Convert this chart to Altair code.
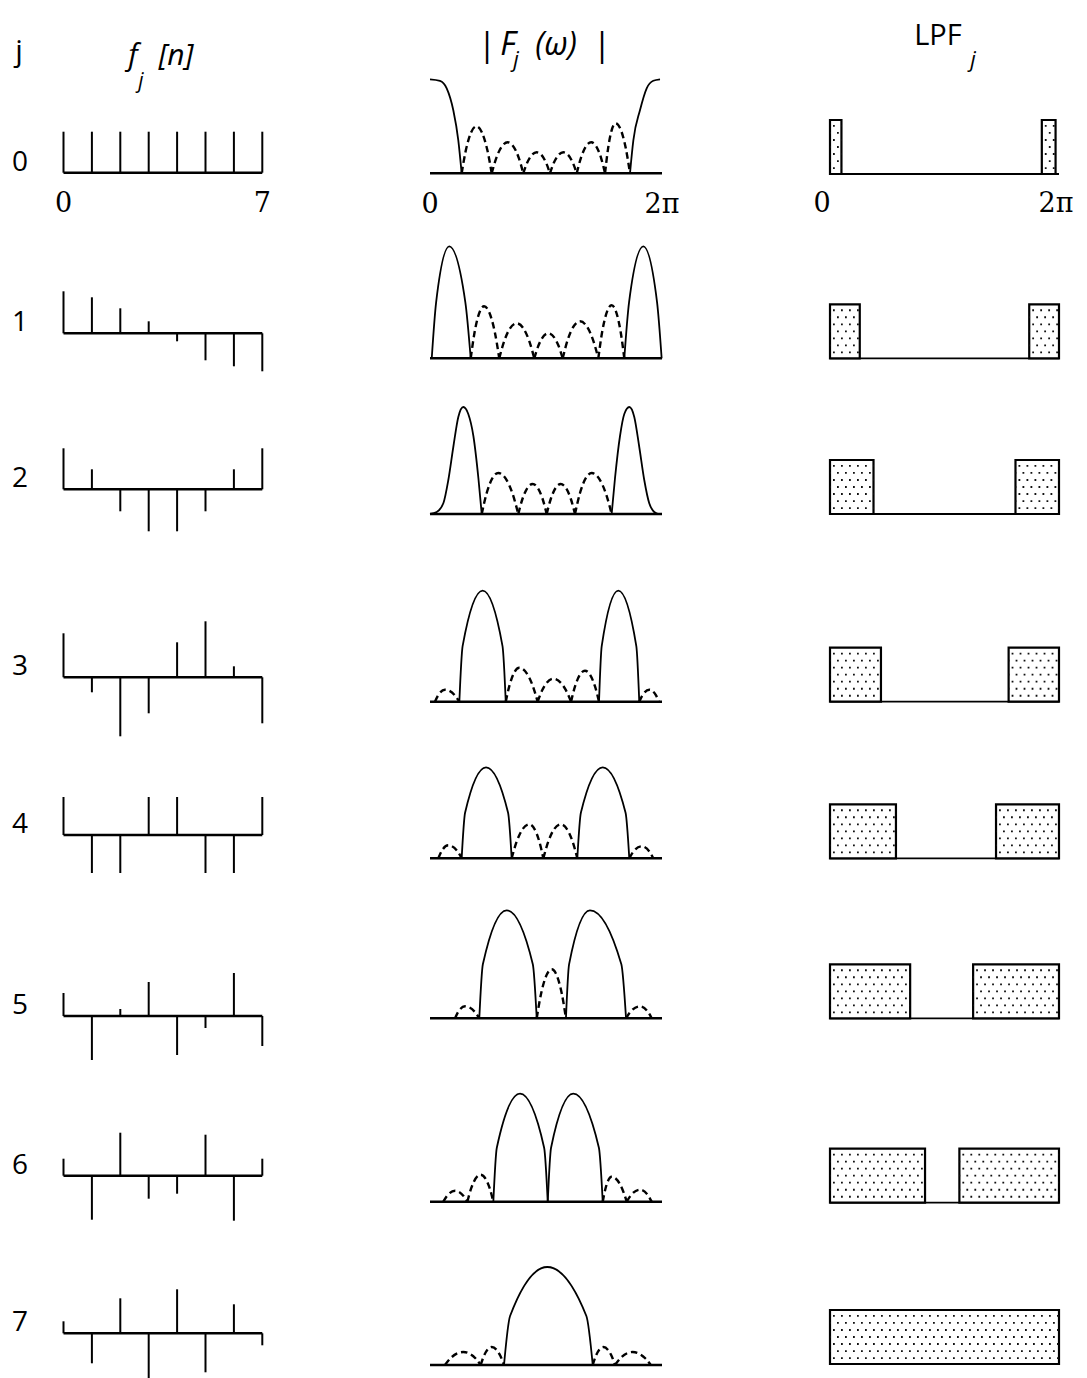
import altair as alt
import pandas as pd

# ---------------------------------------------------------------- data
ROWS = [0, 1, 2, 3, 4, 5, 6, 7]
row_labels = ["0", "1", "2", "3", "4", "5", "6", "7"]
N = [0, 1, 2, 3, 4, 5, 6, 7]                      # sample index n

# f_j[n] stem amplitudes (arbitrary units)
f_0 = [41, 41, 41, 41, 41, 41, 41, 41]
f_1 = [42, 36, 25, 12, -8, -27, -33, -38]
f_2 = [41, 20, -22, -42, -42, -22, 20, 41]
f_3 = [44, -15, -59, -36, 35, 56, 11, -46]
f_4 = [38, -38, -38, 38, 38, -38, -38, 38]
f_5 = [23, -44, 7, 34, -39, -12, 43, -30]
f_6 = [17, -44, 43, -23, -18, 41, -45, 17]
f_7 = [12, -30, 35, -45, 44, -39, 29, -12]
F = [f_0, f_1, f_2, f_3, f_4, f_5, f_6, f_7]

# |F_j(w)| lobes: (left zero, peak, right zero) in multiples of pi, peak height, main lobe?
lobes_0 = [(0.273, 0.40, 0.532, 47, False), (0.532, 0.67, 0.804, 31, False),
           (0.804, 0.92, 1.034, 21, False), (1.034, 1.15, 1.265, 21, False),
           (1.265, 1.39, 1.509, 31, False), (1.509, 1.60, 1.724, 50, False)]
lobes_1 = [(0.015, 0.166, 0.351, 112, True), (0.351, 0.466, 0.597, 52, False),
           (0.597, 0.747, 0.899, 35, False), (0.899, 1.020, 1.144, 25, False),
           (1.144, 1.293, 1.451, 37, False), (1.451, 1.566, 1.675, 53, False),
           (1.675, 1.839, 1.997, 112, True)]
lobes_2 = [(0.446, 0.589, 0.761, 41, False), (0.761, 0.885, 1.006, 30, False),
           (1.006, 1.127, 1.250, 30, False), (1.250, 1.394, 1.566, 41, False)]
lobes_3 = [(0.043, 0.129, 0.253, 12, False), (0.253, 0.454, 0.653, 111, True),
           (0.653, 0.770, 0.928, 34, False), (0.928, 1.063, 1.216, 23, False),
           (1.216, 1.336, 1.457, 31, False), (1.457, 1.623, 1.804, 111, True),
           (1.804, 1.891, 1.974, 12, False)]
lobes_4 = [(0.072, 0.158, 0.273, 13, False), (0.273, 0.483, 0.704, 91, True),
           (0.704, 0.856, 0.977, 34, False), (0.977, 1.127, 1.270, 34, False),
           (1.270, 1.489, 1.718, 91, True), (1.718, 1.825, 1.925, 12, False)]
lobes_5 = [(0.216, 0.302, 0.425, 12, False), (0.425, 0.661, 0.920, 108, True),
           (0.920, 1.049, 1.172, 49, False), (1.172, 1.379, 1.690, 108, True),
           (1.690, 1.810, 1.911, 12, False)]
lobes_6 = [(0.115, 0.216, 0.322, 11, False), (0.322, 0.437, 0.546, 27, False),
           (0.546, 0.776, 1.015, 108, True), (1.015, 1.235, 1.489, 108, True),
           (1.489, 1.566, 1.696, 25, False), (1.696, 1.810, 1.911, 12, False)]
lobes_7 = [(0.129, 0.287, 0.437, 13, False), (0.437, 0.532, 0.638, 18, False),
           (0.638, 1.011, 1.403, 98, True), (1.403, 1.494, 1.595, 18, False),
           (1.595, 1.747, 1.903, 13, False)]
LOBES = [lobes_0, lobes_1, lobes_2, lobes_3, lobes_4, lobes_5, lobes_6, lobes_7]

# half-height point of a lobe side, as a fraction of the zero->peak span (read)
side_shoulder = 0.29
main_shoulder = [0.13, 0.25, 0.13, 0.14, 0.14, 0.13, 0.13, 0.14]

# main lobes traced point by point (row 0 edge lobes, row 2 bell lobes)
trace_0L_w = [0.0, 0.086, 0.144, 0.201, 0.244, 0.273]
trace_0L_h = [94, 92.5, 85, 63, 33, 0]
trace_0R_w = [1.724, 1.753, 1.810, 1.868, 1.925, 1.983]
trace_0R_h = [0, 33, 63, 85, 92.5, 94]
trace_2L_w = [0.0, 0.058, 0.115, 0.158, 0.201, 0.244, 0.287, 0.330, 0.374, 0.417, 0.446]
trace_2L_h = [0, 2, 10.7, 34, 67, 97, 107, 100, 78, 36, 0]
trace_2R_w = [1.566, 1.595, 1.638, 1.675, 1.718, 1.761, 1.804, 1.847, 1.890, 1.933, 1.968]
trace_2R_h = [0, 36, 78, 100, 107, 97, 67, 34, 10.7, 2, 0]
TRACED = {0: [(trace_0L_w, trace_0L_h), (trace_0R_w, trace_0R_h)],
          2: [(trace_2L_w, trace_2L_h), (trace_2R_w, trace_2R_h)]}

# LPF_j pass bands (multiples of pi)
lpf_left_end = [0.10, 0.26, 0.38, 0.445, 0.576, 0.70, 0.83, 2.0]
lpf_right_start = [1.85, 1.74, 1.62, 1.56, 1.45, 1.25, 1.13, None]
lpf_right_end = [1.97, 2.0, 2.0, 2.0, 2.0, 2.0, 2.0, None]

n_ticks = [0, 7]
n_tick_labels = ["0", "7"]
w_ticks = [0, 2]
w_tick_labels = ["0", "2\u03c0"]

# ---------------------------------------------------------------- layout / style
FONT_SANS = "Open Sans"
FONT_SERIF = "DejaVu Serif"
BANDS = [8, 240, 400, 560, 750, 890, 1075, 1245, 1378]          # page y of row bands
STEM_BASE = [172.7, 333.3, 489.3, 677.3, 835, 1016, 1175.7, 1333.3]
SPEC_BASE = [173.3, 358.3, 514, 701.7, 858.3, 1018.3, 1201.7, 1365]
LPF_BASE = [174, 358.3, 514, 701.7, 858.3, 1018.3, 1202.7, 1364]
LPF_BOX = 54.0
LABEL_W, STEM_W, SPEC_W, LPF_W = 47, 355, 390, 279
STEM_X = alt.Scale(domain=[-8.5 / 28.4, (STEM_W - 8.5) / 28.4], nice=False, zero=False)
SPEC_X = alt.Scale(domain=[-20 / 116, (SPEC_W - 20) / 116], nice=False, zero=False)
LPF_X = alt.Scale(domain=[-30 / 114.5, (LPF_W - 30) / 114.5], nice=False, zero=False)
DOT_ROWS_A = [0.11, 0.37, 0.63, 0.89]
DOT_ROWS_B = [0.24, 0.50, 0.76]


def band_h(r):
    return BANDS[r + 1] - BANDS[r]


def yscale(r, base, unit=1.0):
    top, bot = BANDS[r], BANDS[r + 1]
    return alt.Scale(domain=[-(bot - base) / unit, (base - top) / unit], nice=False, zero=False)


def text_layer(text, x, y, size, font=FONT_SANS, style="normal", baseline="alphabetic"):
    return alt.Chart(pd.DataFrame({"t": [text]})).mark_text(
        font=font, fontSize=size, fontStyle=style, align="center", baseline=baseline, color="black"
    ).encode(text="t:N", x=alt.value(x), y=alt.value(y))


def label_panel(r):
    layers = [text_layer(row_labels[r], 12, STEM_BASE[r] - 10 - BANDS[r], 28, baseline="middle")]
    if r == 0:
        layers.append(text_layer("j", 11, 53, 30))
    return alt.layer(*layers).properties(width=LABEL_W, height=band_h(r))


def stem_panel(r):
    ys = yscale(r, STEM_BASE[r])
    d = pd.DataFrame({"n": N, "v": F[r], "z": 0})
    stems = alt.Chart(d).mark_rule(color="black", strokeWidth=2).encode(
        x=alt.X("n:Q", scale=STEM_X, axis=None),
        y=alt.Y("v:Q", scale=ys, axis=None),
        y2="z:Q")
    ax = alt.Chart(pd.DataFrame({"a": [N[0]], "b": [N[-1]], "z": [0]})).mark_rule(
        color="black", strokeWidth=2.5).encode(
        x=alt.X("a:Q", scale=STEM_X, axis=None), x2="b:Q",
        y=alt.Y("z:Q", scale=ys, axis=None))
    layers = [ax, stems]
    if r == 0:
        tk = alt.Chart(pd.DataFrame({"x": n_ticks, "t": n_tick_labels, "z": 0})).mark_text(
            font=FONT_SERIF, fontSize=27, dy=31, baseline="middle", color="black").encode(
            x=alt.X("x:Q", scale=STEM_X, axis=None), y=alt.Y("z:Q", scale=ys, axis=None), text="t:N")
        layers += [tk,
                   text_layer("f", 78, 57, 30, style="italic"),
                   text_layer("j", 86, 80, 21, style="italic"),
                   text_layer("[n]", 121, 57, 30, style="italic")]
    return alt.layer(*layers).properties(width=STEM_W, height=band_h(r))


def spec_panel(r):
    ys = yscale(r, SPEC_BASE[r])
    pts = []
    for k, (z0, pk, z1, h, main) in enumerate(LOBES[r]):
        sh = main_shoulder[r] if main else side_shoulder
        for w, y in [(z0, 0), (z0 + sh * (pk - z0), h / 2), (pk, h),
                     (z1 - sh * (z1 - pk), h / 2), (z1, 0)]:
            pts.append({"lobe": f"L{k}", "w": w, "h": y, "main": main})
    for k, (ws, hs) in enumerate(TRACED.get(r, [])):
        for w, y in zip(ws, hs):
            pts.append({"lobe": f"T{k}", "w": w, "h": y, "main": True})
    df = pd.DataFrame(pts)
    enc = dict(x=alt.X("w:Q", scale=SPEC_X, axis=None),
               y=alt.Y("h:Q", scale=ys, axis=None),
               detail="lobe:N")
    solid = alt.Chart(df[df["main"]]).mark_line(
        interpolate="monotone", color="black", strokeWidth=1.8).encode(**enc)
    layers = []
    ax = alt.Chart(pd.DataFrame({"a": [0], "b": [2], "z": [0]})).mark_rule(
        color="black", strokeWidth=2.6).encode(
        x=alt.X("a:Q", scale=SPEC_X, axis=None), x2="b:Q",
        y=alt.Y("z:Q", scale=ys, axis=None))
    layers.append(ax)
    side = df[~df["main"]]
    if len(side):
        dashed = alt.Chart(side).mark_line(
            interpolate="monotone", color="black", strokeWidth=2.4, strokeDash=[6.5, 4]).encode(**enc)
        layers.append(dashed)
    layers.append(solid)
    if r == 0:
        tk = alt.Chart(pd.DataFrame({"x": w_ticks, "t": w_tick_labels, "z": 0})).mark_text(
            font=FONT_SERIF, fontSize=27, dy=32, baseline="middle", color="black").encode(
            x=alt.X("x:Q", scale=SPEC_X, axis=None), y=alt.Y("z:Q", scale=ys, axis=None), text="t:N")
        layers += [tk,
                   text_layer("|", 77, 48, 33),
                   text_layer("F", 98, 47, 32, style="italic"),
                   text_layer("j", 106, 59, 22, style="italic"),
                   text_layer("(\u03c9)", 146, 47, 32, style="italic"),
                   text_layer("|", 192, 48, 33)]
    return alt.layer(*layers).properties(width=SPEC_W, height=band_h(r))


def lpf_panel(r):
    ys = yscale(r, LPF_BASE[r], LPF_BOX)
    lo, hi = [0.0], [lpf_left_end[r]]
    if lpf_right_start[r] is not None:
        lo.append(lpf_right_start[r])
        hi.append(lpf_right_end[r])
    boxes = pd.DataFrame({"lo": lo, "hi": hi, "z": 0, "g": 1})
    X = alt.X("lo:Q", scale=LPF_X, axis=None)
    ax = alt.Chart(pd.DataFrame({"a": [0], "b": [2], "z": [0]})).mark_rule(
        color="black", strokeWidth=1.8).encode(
        x=alt.X("a:Q", scale=LPF_X, axis=None), x2="b:Q",
        y=alt.Y("z:Q", scale=ys, axis=None))
    rect = alt.Chart(boxes).mark_rect(fill="white", stroke="black", strokeWidth=2.2).encode(
        x=X, x2="hi:Q", y=alt.Y("z:Q", scale=ys, axis=None), y2="g:Q")
    layers = [ax, rect]
    for rowsf, off in [(DOT_ROWS_A, -3.0), (DOT_ROWS_B, -7.0)]:
        dd = pd.DataFrame([{"lo": a, "hi": b, "f": f} for a, b in zip(lo, hi) for f in rowsf])
        layers.append(alt.Chart(dd).mark_rule(
            color="#111111", strokeWidth=1.8, strokeDash=[1.8, 6.2], strokeDashOffset=off).encode(
            x=X, x2="hi:Q", y=alt.Y("f:Q", scale=ys, axis=None)))
    if r == 0:
        for xv, t, dx in [(w_ticks[0], w_tick_labels[0], -8), (w_ticks[1], w_tick_labels[1], -3)]:
            layers.append(alt.Chart(pd.DataFrame({"x": [xv], "t": [t], "z": [0]})).mark_text(
                font=FONT_SERIF, fontSize=27, dy=30, dx=dx, baseline="middle", color="black").encode(
                x=alt.X("x:Q", scale=LPF_X, axis=None), y=alt.Y("z:Q", scale=ys, axis=None), text="t:N"))
        layers += [text_layer("LPF", 138, 37, 29),
                   text_layer("j", 173, 59, 22, style="italic")]
    return alt.layer(*layers).properties(width=LPF_W, height=band_h(r))


rows = [alt.hconcat(label_panel(r), stem_panel(r), spec_panel(r), lpf_panel(r),
                    spacing=0, bounds="flush") for r in ROWS]
chart = alt.vconcat(*rows, spacing=0).properties(
    padding=0, background="white").configure_view(strokeWidth=0)

chart.save("out.html", embed_options={"renderer": "svg", "actions": False})
